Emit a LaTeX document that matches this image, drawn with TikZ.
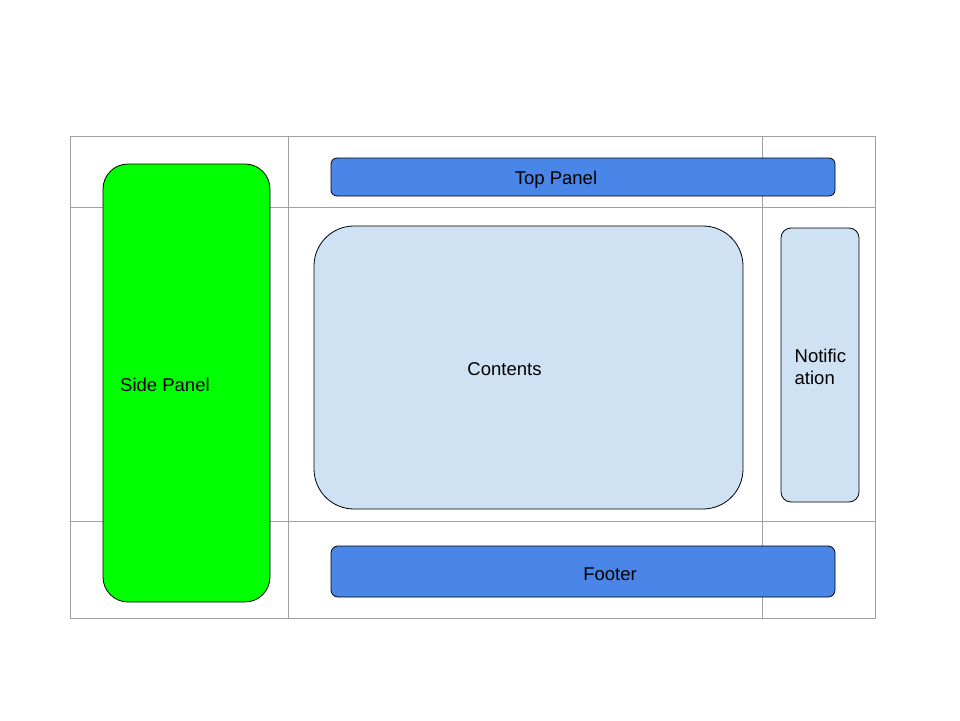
\documentclass[tikz,border=0pt]{standalone}
\usepackage{fontspec}
\setmainfont{Liberation Sans}
\definecolor{gridgrey}{HTML}{A0A0A0}
\definecolor{barblue}{HTML}{4A86E8}
\definecolor{paleblue}{HTML}{CFE2F3}
\definecolor{sidegreen}{HTML}{00FF00}
\tikzset{
  box/.style={draw=black, line width=0.8pt, inner sep=0pt, outer sep=0pt, rectangle},
  caption/.style={font=\fontsize{18.5}{22}\selectfont, inner sep=0pt, text=black},
  gridline/.style={draw=gridgrey, line width=1pt}
}
\begin{document}
\begin{tikzpicture}[x=1pt,y=-1pt]
\useasboundingbox (0,0) rectangle (960,720);
% layout grid
\draw[gridline] (70,136) rectangle (875,618);
\draw[gridline] (288,136) -- (288,618);
\draw[gridline] (762,136) -- (762,618);
\draw[gridline] (70,207) -- (875,207);
\draw[gridline] (70,521) -- (875,521);
% panels
\node[box, fill=sidegreen, rounded corners=25pt, minimum width=167pt, minimum height=438pt] (side) at (186.5,383) {};
\node[box, fill=barblue, rounded corners=6pt, minimum width=504pt, minimum height=38pt] (top) at (583,177) {};
\node[box, fill=paleblue, rounded corners=40pt, minimum width=429pt, minimum height=283pt] (contents) at (528.5,367.5) {};
\node[box, fill=paleblue, rounded corners=10pt, minimum width=78pt, minimum height=274pt] (notif) at (820,365) {};
\node[box, fill=barblue, rounded corners=7pt, minimum width=504pt, minimum height=51pt] (footer) at (583,571.5) {};
% labels
\node[caption] (toplbl) at (556,179.5) {Top Panel};
\node[caption] (contlbl) at (504.5,369) {Contents};
\node[caption, anchor=west] (sidelbl) at (120,384.5) {Side Panel};
\node[caption, anchor=west, align=left] (notiflbl) at (794.5,367) {Notific\\ation};
\node[caption] (footlbl) at (610,574) {Footer};
\end{tikzpicture}
\end{document}
